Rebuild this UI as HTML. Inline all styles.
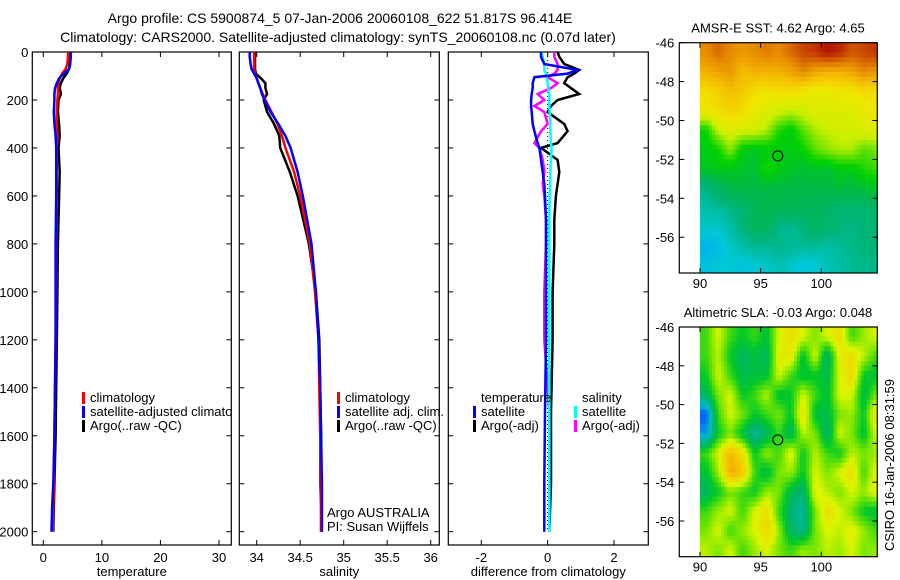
<!DOCTYPE html>
<html><head><meta charset="utf-8">
<style>
html,body{margin:0;padding:0;background:#fff;}
svg{display:block;font-family:"Liberation Sans",sans-serif;}
text{fill:#000;}
</style></head>
<body>
<svg id="fig" width="900" height="580" viewBox="0 0 900 580">
<defs><clipPath id="clip-temp-legend"><rect x="32" y="380" width="199" height="60"/></clipPath></defs>
<text x="340" y="23" font-size="14" text-anchor="middle">Argo profile: CS 5900874_5 07-Jan-2006 20060108_622 51.817S 96.414E</text>
<text x="338" y="42" font-size="14" text-anchor="middle">Climatology: CARS2000. Satellite-adjusted climatology: synTS_20060108.nc (0.07d later)</text>
<g id="layer"></g>
</svg>
<script>
// ---- profile data ----
const depthsTS = [0,20,50,70,90,110,130,150,175,200,250,300,350,400,500,600,800,1000,1200,1400,1600,1800,1900,2000];
const tempClim = [4.2,4.2,4.1,3.8,3.2,2.8,2.6,2.5,2.5,2.4,2.3,2.3,2.4,2.3,2.3,2.3,2.2,2.2,2.1,2.0,1.9,1.8,1.7,1.6];
const tempSat  = [4.7,4.7,4.6,4.4,3.5,2.7,2.3,2.0,1.9,1.9,1.8,1.9,2.1,2.2,2.2,2.2,2.1,2.1,2.1,2.0,1.9,1.7,1.5,1.4];
const tempArgo = [4.6,4.6,4.5,4.4,4.0,3.4,3.0,2.8,3.0,2.6,2.5,2.7,2.8,2.6,2.8,2.7,2.5,2.4,2.3,2.2,2.1,1.9,1.8,1.7];
const salClim = [33.97,33.97,33.97,33.97,33.98,34.0,34.02,34.04,34.07,34.1,34.17,34.24,34.29,34.33,34.43,34.5,34.61,34.67,34.71,34.72,34.73,34.73,34.74,34.74];
const salSat  = [33.92,33.92,33.93,33.94,33.97,34.0,34.02,34.04,34.06,34.09,34.16,34.25,34.33,34.39,34.47,34.53,34.63,34.68,34.71,34.73,34.74,34.75,34.75,34.75];
const salArgo = [33.98,33.98,33.98,33.98,33.99,34.05,34.1,34.1,34.12,34.08,34.12,34.2,34.26,34.27,34.38,34.47,34.6,34.68,34.72,34.73,34.74,34.74,34.74,34.74];
const depthsDiff = [0,20,50,75,90,105,130,150,175,200,225,250,300,330,380,400,450,500,550,600,700,800,1000,1200,1500,1800,2000];
const diffTempSat  = [-0.2,-0.2,-0.1,0.9,0.6,-0.4,-0.45,-0.45,-0.48,-0.5,-0.5,-0.48,-0.45,-0.4,-0.3,-0.25,-0.2,-0.15,-0.1,-0.08,-0.05,-0.05,-0.05,-0.05,-0.08,-0.1,-0.1];
const diffTempArgo = [0.3,0.35,0.5,0.95,0.8,0.6,0.5,0.7,0.95,0.3,0.1,0.0,0.5,0.6,0.3,-0.2,0.3,0.35,0.3,0.25,0.2,0.2,0.15,0.15,0.1,0.1,0.05];
const diffSalSat   = [-0.2,-0.15,-0.1,-0.1,-0.05,-0.03,0.0,0.02,0.05,0.05,0.05,0.06,0.08,0.08,0.1,0.12,0.1,0.08,0.07,0.06,0.05,0.05,0.05,0.05,0.05,0.05,0.05];
const diffSalArgo  = [0.2,0.2,0.3,0.3,0.2,0.0,0.3,0.1,-0.3,-0.1,-0.4,-0.1,0.0,-0.2,-0.4,-0.25,-0.15,-0.1,-0.15,-0.1,-0.05,-0.05,-0.1,-0.1,0.05,0.05,0.05];
const depthTicks = [0,200,400,600,800,1000,1200,1400,1600,1800,2000];
const tempTicks = [0,10,20,30];
const salTicks = [34,34.5,35,35.5,36];
const salTickLabels = ["34","34.5","35","35.5","36"];
const diffTicks = [-2,0,2];
// ---- map data (rows from -46 southward, 1 deg; cols from 90E, 1 deg) ----
const mapLats = [-46,-47,-48,-49,-50,-51,-52,-53,-54,-55,-56,-57];
const mapLons = [90,91,92,93,94,95,96,97,98,99,100,101,102,103,104];
const sstGrid = [
[6.6,6.8,6.6,6.5,6.6,6.7,6.6,6.8,7.0,7.1,7.3,7.2,6.9,7.0,7.1],
[6.3,6.4,6.5,6.2,6.3,6.3,6.3,6.4,6.6,6.4,6.3,6.3,6.4,6.6,6.5],
[5.9,6.0,6.2,6.1,5.9,5.8,5.9,5.9,5.8,5.7,5.7,5.8,5.8,5.9,5.9],
[5.8,5.9,6.0,5.9,5.7,5.6,5.5,5.4,5.5,5.6,5.6,5.6,5.6,5.7,5.8],
[4.7,5.4,5.6,5.5,5.5,5.3,4.8,4.6,5.0,5.3,5.4,5.5,5.5,5.6,5.6],
[4.6,4.7,5.2,4.6,4.5,4.6,4.6,4.6,4.7,5.0,5.2,5.3,5.3,5.0,5.1],
[4.5,4.6,4.5,4.5,4.4,4.8,4.6,4.5,4.4,4.5,4.4,4.6,4.6,4.8,4.9],
[3.7,4.0,4.3,4.3,4.3,4.3,4.3,4.3,4.3,4.3,4.3,4.4,4.3,4.4,4.5],
[3.5,3.6,3.7,3.9,4.1,4.2,4.2,4.2,4.1,4.1,4.0,3.9,3.9,3.9,4.0],
[3.3,3.3,3.5,3.8,4.1,4.1,3.7,3.6,3.8,4.1,3.9,3.8,3.7,3.8,3.9],
[2.9,3.0,3.3,3.5,3.6,3.6,3.7,3.6,3.6,3.6,3.5,3.6,3.7,3.8,3.8],
[3.1,3.2,3.2,3.1,3.2,3.3,3.4,3.3,3.1,3.2,3.4,3.5,3.6,3.7,3.7]];
const slaGrid = [
[0,0.05,0,-0.02,0,-0.03,0.05,0.08,0.05,0.02,0.05,0.08,0,0.03,0.05],
[0,0.04,-0.02,-0.05,-0.03,-0.05,0.06,0.07,-0.03,0.05,-0.06,0.06,0.08,0.04,0.0],
[-0.02,0.05,0,-0.04,-0.03,-0.03,0.05,0.0,-0.03,-0.02,-0.04,0.05,0.09,-0.02,-0.03],
[-0.05,0.02,0.05,-0.02,0,0.04,-0.03,-0.02,0.05,0.0,-0.03,0.05,0.05,-0.04,0.02],
[-0.15,0.0,0.05,0.02,-0.02,0.0,0.02,-0.02,0.08,-0.03,-0.04,0.02,0.03,-0.02,0.08],
[-0.12,-0.02,0.02,-0.03,-0.08,-0.05,0.0,-0.05,0.04,0.02,-0.06,0.05,0.02,-0.03,0.05],
[0.0,0.05,0.12,0.08,-0.02,0.03,0.0,0.06,-0.02,0.04,0.0,-0.02,0.04,0.02,0.03],
[-0.03,0.03,0.13,0.11,0.0,-0.04,0.02,0.03,-0.02,0.05,0.02,0.05,0.08,0.0,0.06],
[-0.05,-0.02,0.02,0.0,-0.02,0.03,0.02,-0.04,-0.06,0.06,0.04,0.02,0.05,0.03,0.06],
[0,0.03,0.05,0.0,0.05,0.08,0.0,-0.06,-0.08,0.02,0.08,0.05,0.02,-0.02,-0.03],
[0.02,0.05,0.0,0.03,0.05,0.09,0.03,-0.05,-0.07,0.02,0.05,0.04,0.06,0.03,0.0],
[0.04,0.02,0.05,0.0,0.03,0.05,0.02,0.0,0.03,0.02,0.04,0.03,0.05,0.02,0.03]];
const mapLatTicks = [-46,-48,-50,-52,-54,-56];
const mapLonTicks = [90,95,100];
const floatLon = 96.414, floatLat = -51.817;

const NS="http://www.w3.org/2000/svg";
const layer=document.getElementById('layer');
function mk(tag,attrs,parent){const e=document.createElementNS(NS,tag);for(const k in attrs)e.setAttribute(k,attrs[k]);(parent||layer).appendChild(e);return e;}
function lin(d0,d1,r0,r1){return v=>r0+(v-d0)*(r1-r0)/(d1-d0);}

const yTop=52, yBot=545;
const yDepth=lin(0,2000,52,531.7);

function panel(name,x0,x1,xs,ticks,labels,xlabel,showY){
  const g=mk('g',{});
  
  
  const fr=mk('rect',{x:x0,y:yTop,width:x1-x0,height:yBot-yTop,fill:'none',stroke:'#000','stroke-width':1.2},g);
  
  
  depthTicks.forEach(d=>{
    const y=yDepth(d);
    mk('line',{x1:x0,x2:x0+5,y1:y,y2:y,stroke:'#000'},g);
    mk('line',{x1:x1-5,x2:x1,y1:y,y2:y,stroke:'#000'},g);
    if(showY){const t=mk('text',{x:x0-4,y:y+5,'font-size':13,'text-anchor':'end'},g);t.textContent=d;
      
      }
  });
  ticks.forEach((v,i)=>{
    const x=xs(v);
    mk('line',{x1:x,x2:x,y1:yBot,y2:yBot-5,stroke:'#000'},g);
    mk('line',{x1:x,x2:x,y1:yTop,y2:yTop+5,stroke:'#000'},g);
    const t=mk('text',{x:x,y:562,'font-size':13,'text-anchor':'middle'},g);t.textContent=labels[i];
    
    
  });
  const xl=mk('text',{x:(x0+x1)/2,y:576,'font-size':13,'text-anchor':'middle'},g);xl.textContent=xlabel;
  
  
  return g;
}
function profile(g,xs,vals,depths,color,nm,w){
  const pts=vals.map((v,i)=>xs(v).toFixed(1)+','+yDepth(depths[i]).toFixed(1)).join(' ');
  const p=mk('polyline',{points:pts,fill:'none',stroke:color,'stroke-width':w||2.5,'stroke-linejoin':'miter'},g);
  
  
}
function legend(g,x,y,items){
  items.forEach((it,i)=>{
    const yy=y+i*14;
    if(it.color) mk('rect',{x:x,y:yy-10,width:3,height:12,fill:it.color},g);
    const t=mk('text',{x:x+8,y:yy,'font-size':13},g);t.textContent=it.text;
    
    
  });
}

// Temperature
const xT=lin(0,30,43.3,219);
const gT=panel('temperature',32.3,231.3,xT,tempTicks,tempTicks.map(String),'temperature',true);
profile(gT,xT,tempArgo,depthsTS,'#000','temp-argo-line');
profile(gT,xT,tempClim,depthsTS,'#f00','temp-climatology-line');
profile(gT,xT,tempSat,depthsTS,'#00f','temp-satellite-line');
const gTL=mk('g',{'clip-path':'url(#clip-temp-legend)'},gT);


legend(gTL,82,402,[{color:'#f00',text:'climatology'},{color:'#00f',text:'satellite-adjusted climatology'},{color:'#000',text:'Argo(..raw -QC)'}]);

// Salinity
const xS=lin(34,36,256.7,430.7);
const gS=panel('salinity',239.3,439.3,xS,salTicks,salTickLabels,'salinity',false);
profile(gS,xS,salArgo,depthsTS,'#000','sal-argo-line');
profile(gS,xS,salClim,depthsTS,'#f00','sal-climatology-line');
profile(gS,xS,salSat,depthsTS,'#00f','sal-satellite-line');
legend(gS,337,402,[{color:'#f00',text:'climatology'},{color:'#00f',text:'satellite adj. clim.'},{color:'#000',text:'Argo(..raw -QC)'}]);
legend(gS,319,517,[{text:'Argo AUSTRALIA'},{text:'PI: Susan Wijffels'}]);

// Difference
const xD=lin(-2,2,481.3,614);
const gD=panel('difference',448.3,648.3,xD,diffTicks,diffTicks.map(String),'difference from climatology',false);
mk('line',{x1:xD(0),x2:xD(0),y1:yDepth(0),y2:yDepth(2000),stroke:'#000','stroke-dasharray':'1,3'},gD);
profile(gD,xD,diffTempArgo,depthsDiff,'#000','diff-temp-argo-line');
profile(gD,xD,diffSalArgo,depthsDiff,'#f0f','diff-sal-argo-line');
profile(gD,xD,diffSalSat,depthsDiff,'#0ff','diff-sal-satellite-line');
profile(gD,xD,diffTempSat,depthsDiff,'#00f','diff-temp-satellite-line');
legend(gD,473,402,[{text:'temperature'},{color:'#00f',text:'satellite'},{color:'#000',text:'Argo(-adj)'}]);
legend(gD,574,402,[{text:'salinity'},{color:'#0ff',text:'satellite'},{color:'#f0f',text:'Argo(-adj)'}]);

// ---- maps ----
const sstStops=[[2.5,[0,150,255]],[3.2,[0,200,215]],[3.8,[0,180,120]],[4.3,[0,185,70]],[4.7,[0,210,0]],[5.4,[200,240,0]],[5.8,[240,230,0]],[6.2,[245,190,0]],[6.6,[230,140,0]],[7.3,[180,20,0]]];
const slaStops=[[-0.15,[0,90,255]],[-0.1,[0,190,200]],[-0.05,[0,180,100]],[-0.02,[0,200,40]],[0.02,[120,230,0]],[0.05,[220,245,0]],[0.1,[245,205,0]],[0.14,[240,160,0]]];
function colorOf(stops,v){
  let c=stops[stops.length-1][1];
  if(v<=stops[0][0]) c=stops[0][1];
  else for(let i=1;i<stops.length;i++){if(v<=stops[i][0]){const a=stops[i-1],b=stops[i],f=(v-a[0])/(b[0]-a[0]);
    c=a[1].map((x,k)=>Math.round(x+(b[1][k]-x)*f));break;}}
  return 'rgb('+c.join(',')+')';
}
function sample(grid,fr,fc){ // bilinear at fractional row/col (cell-centre coordinates)
  const R=grid.length-1,C=grid[0].length-1;
  fr=Math.max(0,Math.min(R,fr));fc=Math.max(0,Math.min(C,fc));
  const r0=Math.floor(fr),c0=Math.floor(fc),r1=Math.min(R,r0+1),c1=Math.min(C,c0+1);
  const a=fr-r0,b=fc-c0;
  return grid[r0][c0]*(1-a)*(1-b)+grid[r0][c1]*(1-a)*b+grid[r1][c0]*a*(1-b)+grid[r1][c1]*a*b;
}
const SUB=4;
function map(name,top,bot,grid,stops,title){
  const g=mk('g',{});
  
  
  const x0=679.3,x1=877.3;
  const xs=lin(90,100,700,821.3);
  const ys=lin(-46,-56,top,top+(bot-top)*10/11.84);
  const clip='clip-'+name;
  const cp=mk('clipPath',{id:clip},g);mk('rect',{x:x0,y:top,width:x1-x0,height:bot-top},cp);
  const cg=mk('g',{'clip-path':'url(#'+clip+')'},g);
  grid.forEach((row,r)=>row.forEach((v,c)=>{
    for(let i=0;i<SUB;i++)for(let j=0;j<SUB;j++){
      const lon=mapLons[c]+j/SUB, lat=mapLats[r]-i/SUB;
      const val=sample(grid,r+(i+0.5)/SUB-0.5,c+(j+0.5)/SUB-0.5);
      const xa=xs(lon),xb=xs(lon+1/SUB),ya=ys(lat),yb=ys(lat-1/SUB);
      const cell=mk('rect',{x:xa.toFixed(1),y:ya.toFixed(1),width:(xb-xa+0.6).toFixed(1),height:(yb-ya+0.6).toFixed(1),fill:colorOf(stops,val)},cg);
      
      
    }
  }));
  const fr=mk('rect',{x:x0,y:top,width:x1-x0,height:bot-top,fill:'none',stroke:'#000','stroke-width':1.2},g);
  
  
  mapLatTicks.forEach(l=>{const y=ys(l);
    mk('line',{x1:x0,x2:x0+5,y1:y,y2:y,stroke:'#000'},g);mk('line',{x1:x1-5,x2:x1,y1:y,y2:y,stroke:'#000'},g);
    const t=mk('text',{x:x0-5,y:y+5,'font-size':13,'text-anchor':'end'},g);t.textContent=l;
    
    });
  mapLonTicks.forEach(l=>{const x=xs(l);
    mk('line',{x1:x,x2:x,y1:bot,y2:bot-5,stroke:'#000'},g);mk('line',{x1:x,x2:x,y1:top,y2:top+5,stroke:'#000'},g);
    const t=mk('text',{x:x,y:bot+15,'font-size':13,'text-anchor':'middle'},g);t.textContent=l;
    
    });
  const c=mk('circle',{cx:xs(floatLon),cy:ys(floatLat),r:5,fill:'none',stroke:'#000','stroke-width':1},g);
  
  
  const t=mk('text',{x:778,y:top-10,'font-size':13,'text-anchor':'middle'},g);t.textContent=title;
  
  
}
map('sst',42.7,273,sstGrid,sstStops,'AMSR-E SST: 4.62 Argo: 4.65');
map('sla',327,556.7,slaGrid,slaStops,'Altimetric SLA: -0.03 Argo: 0.048');
const st=mk('text',{x:0,y:0,'font-size':13,'text-anchor':'middle',transform:'translate(894,465) rotate(-90)'});
st.textContent='CSIRO 16-Jan-2006 08:31:59';


</script>
</body></html>
